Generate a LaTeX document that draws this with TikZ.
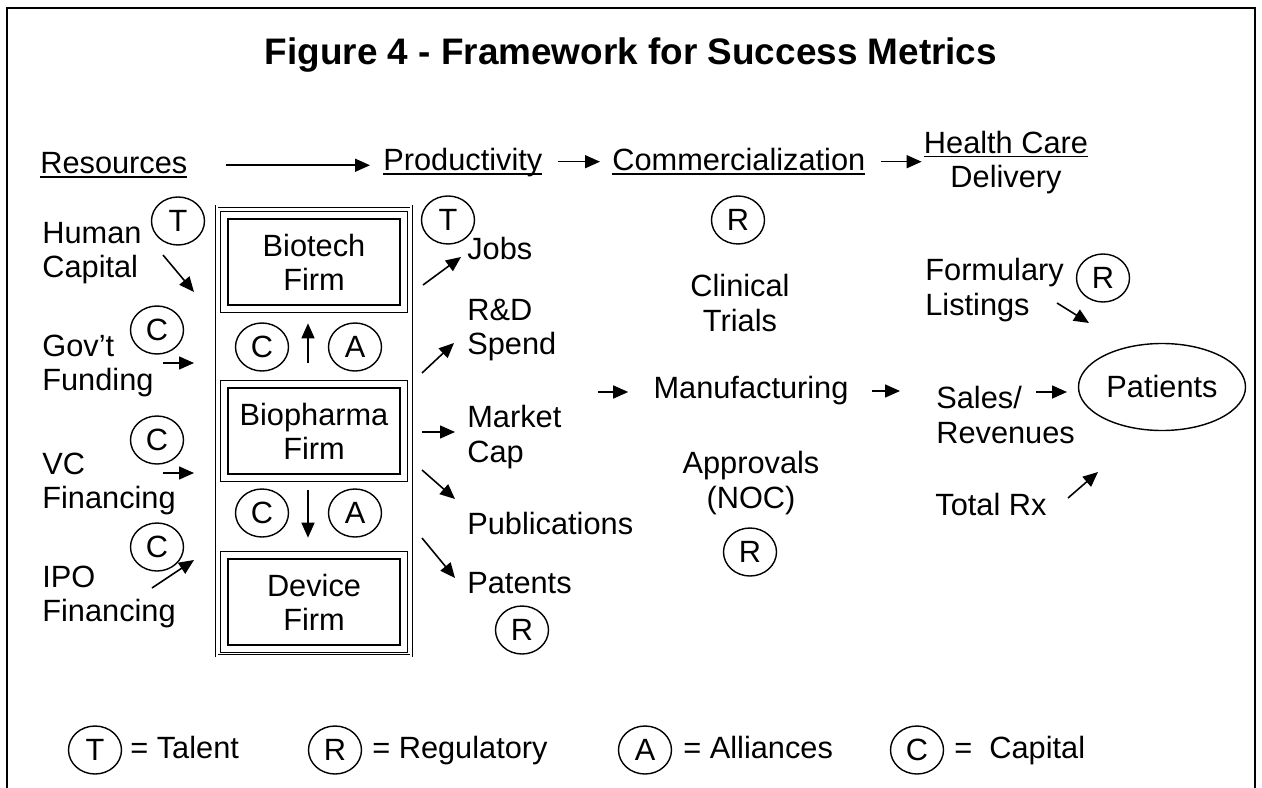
\documentclass[tikz,border=0pt]{standalone}
\usepackage{amsmath}
\usepackage{fontspec}
\setmainfont{Liberation Sans}
\usetikzlibrary{arrows.meta,shapes.geometric}
\newcommand{\stagehead}[1]{\vtop{\hbox{\smash[b]{#1}}\kern1.3pt\hrule height0.8pt}}

\begin{document}
\begin{tikzpicture}[x=0.2mm,y=-0.2mm,
  txt/.style={font=\fontsize{17.5}{19.5}\selectfont,inner sep=0pt,align=left},
  tag/.style={ellipse,draw,line width=0.8pt,minimum width=10.6mm,minimum height=9.6mm,inner sep=0pt,font=\fontsize{17.5}{19.5}\selectfont},
  firm/.style={draw,line width=1.5pt,minimum width=34.4mm,minimum height=17.2mm,inner sep=0pt,align=center,font=\fontsize{17.5}{19.5}\selectfont},
  arr/.style={line width=0.9pt,-{Triangle[length=3mm,width=2.6mm]}}]
  \useasboundingbox (0,0) rectangle (1262,788);
  \draw[line width=1.2pt] (7,788) -- (7,8) -- (1255,8) -- (1255,788);
  \node[font=\fontsize{21}{24}\selectfont\bfseries] (title) at (631,55) {Figure 4 - Framework for Success Metrics};
  % stages along the top
  \node[txt,anchor=base west] (res) at (40,174) {\stagehead{Resources}};
  \node[txt,anchor=base west] (prod) at (383,171) {\stagehead{Productivity}};
  \node[txt,anchor=base west] (comm) at (612,171) {\stagehead{Commercialization}};
  \node[txt,align=center,anchor=north] (health) at (1006,131) {\stagehead{Health Care}\\Delivery};
  \draw[arr,shorten <=7.6mm,shorten >=2.6mm] (res.east) -- (res.east -| prod.west);
  \draw[arr,shorten <=3mm,shorten >=2.4mm] (prod.east) -- (prod.east -| comm.west);
  \draw[arr,shorten <=3mm,shorten >=0.4mm] (comm.east) -- (comm.east -| health.west);
  % firms
  \node[draw,double,double distance=0.4mm,line width=0.4pt,minimum width=38.9mm,minimum height=89.8mm] (firms) at (314,431) {};
  \node[firm] (biotech) at (314,262) {Biotech\\Firm};
  \node[firm] (biopharma) at (314,431) {Biopharma\\Firm};
  \node[firm] (device) at (314,602) {Device\\Firm};
  \draw[line width=0.6pt] ([shift={(-6,6)}]biotech.south west) rectangle ([shift={(6,-6)}]biotech.north east);
  \draw[line width=0.6pt] ([shift={(-6,6)}]biopharma.south west) rectangle ([shift={(6,-6)}]biopharma.north east);
  \draw[line width=0.6pt] ([shift={(-6,6)}]device.south west) rectangle ([shift={(6,-6)}]device.north east);
  \node[tag] (cUp) at (262,347) {C};
  \node[tag] (aUp) at (355,347) {A};
  \node[tag] (cDown) at (262,513) {C};
  \node[tag] (aDown) at (355,513) {A};
  \draw[arr,shorten <=4.8mm,shorten >=3.4mm] ([shift={(-6,0)}]biopharma.north) -- ([shift={(-6,0)}]biotech.south);
  \draw[arr,shorten <=3mm,shorten >=4mm] ([shift={(-6,0)}]biopharma.south) -- ([shift={(-6,0)}]device.north);
  % resources
  \node[txt,anchor=west] (human) at (42,253) {Human\\Capital};
  \node[txt,anchor=west] (gov) at (42,366) {Gov’t\\Funding};
  \node[txt,anchor=west] (vc) at (42,484) {VC\\Financing};
  \node[txt,anchor=west] (ipo) at (42,597) {IPO\\Financing};
  \node[tag] (tHuman) at (178,221) {T};
  \node[tag] (cGov) at (157,330) {C};
  \node[tag] (cVc) at (157,440) {C};
  \node[tag] (cIpo) at (157,547) {C};
  \coordinate (humA) at (163,255); \coordinate (humB) at (194,292);
  \coordinate (govA) at (163,363); \coordinate (govB) at (194,363);
  \coordinate (vcA) at (163,473); \coordinate (vcB) at (194,473);
  \coordinate (ipoA) at (152,588); \coordinate (ipoB) at (194,560);
  \draw[arr] (humA) -- (humB);
  \draw[arr] (govA) -- (govB);
  \draw[arr] (vcA) -- (vcB);
  \draw[arr] (ipoA) -- (ipoB);
  % productivity
  \node[tag] (tJobs) at (448,220) {T};
  \node[txt,anchor=west] (jobs) at (467,249) {Jobs};
  \node[txt,anchor=west] (rd) at (467,330) {R\&D\\Spend};
  \node[txt,anchor=west] (market) at (467,437) {Market\\Cap};
  \node[txt,anchor=west] (pubs) at (467,524) {Publications};
  \node[txt,anchor=west] (patents) at (467,583) {Patents};
  \node[tag] (rPatents) at (522,630) {R};
  \coordinate (jobsA) at (423,285); \coordinate (jobsB) at (461,257);
  \coordinate (rdA) at (422,373); \coordinate (rdB) at (454,343);
  \coordinate (marketA) at (422,432); \coordinate (marketB) at (455,432);
  \coordinate (pubsA) at (422,470); \coordinate (pubsB) at (455,499);
  \coordinate (patentsA) at (422,538); \coordinate (patentsB) at (455,578);
  \draw[arr] (jobsA) -- (jobsB);
  \draw[arr] (rdA) -- (rdB);
  \draw[arr] (marketA) -- (marketB);
  \draw[arr] (pubsA) -- (pubsB);
  \draw[arr] (patentsA) -- (patentsB);
  % commercialization
  \node[tag] (rTrials) at (738,220) {R};
  \node[txt,align=center] (trials) at (740,303) {Clinical\\Trials};
  \node[txt] (mfg) at (751,391) {Manufacturing};
  \node[txt,align=center] (approvals) at (751,483) {Approvals\\(NOC)};
  \node[tag] (rApprovals) at (750,552) {R};
  \coordinate (mfgIn) at (598,392);
  \draw[arr,shorten >=5mm] (mfgIn) -- (mfgIn -| mfg.west);
  % health care delivery
  \node[txt,anchor=west] (formulary) at (925,290) {Formulary\\Listings};
  \node[tag] (rFormulary) at (1103,278) {R};
  \node[txt,anchor=west] (sales) at (936,415) {Sales/\\Revenues};
  \node[txt,anchor=west] (totalrx) at (935,505) {Total Rx};
  \node[ellipse,draw,line width=0.8pt,minimum width=33.4mm,minimum height=17.4mm,txt] (patients) at (1162,387) {Patients};
  \draw[arr,shorten <=4.6mm,shorten >=7.2mm] (mfg.east) -- (mfg.east -| sales.west);
  \coordinate (formA) at (1057,303); \coordinate (formB) at (1089,323);
  \coordinate (salesA) at (1036,392); \coordinate (salesB) at (1067,392);
  \coordinate (totalA) at (1068,498); \coordinate (totalB) at (1098,472);
  \draw[arr] (formA) -- (formB);
  \draw[arr] (salesA) -- (salesB);
  \draw[arr] (totalA) -- (totalB);
  % legend
  \node[tag] (keyT) at (95,750) {T};
  \node[txt,anchor=base west] (keyTalent) at (130,758) {= Talent};
  \node[tag] (keyR) at (335,750) {R};
  \node[txt,anchor=base west] (keyReg) at (372,758) {= Regulatory};
  \node[tag] (keyA) at (645,750) {A};
  \node[txt,anchor=base west] (keyAll) at (683,758) {= Alliances};
  \node[tag] (keyC) at (917,750) {C};
  \node[txt,anchor=base west] (keyCap) at (954,758) {=~ Capital};
\end{tikzpicture}
\end{document}
